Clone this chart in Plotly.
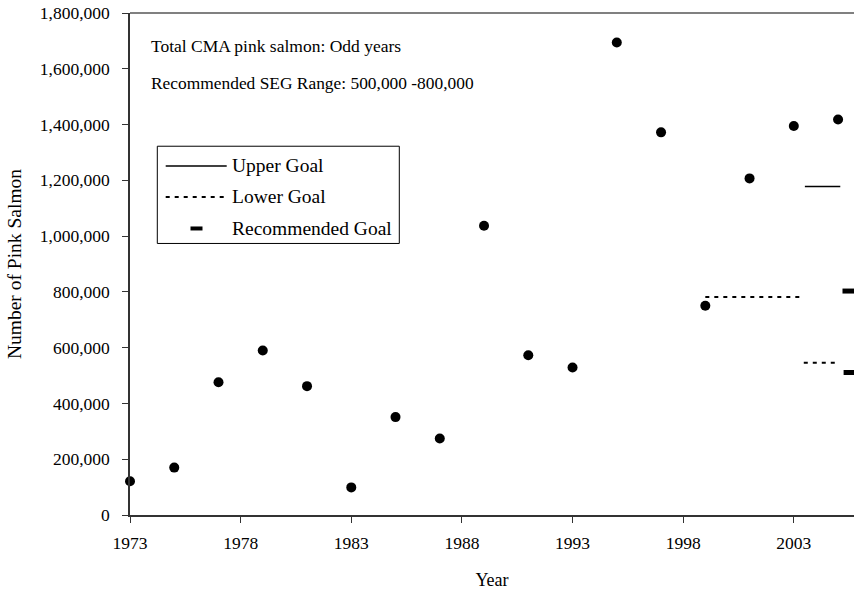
import plotly.graph_objects as go

# ---- data ----
years = [1973, 1975, 1977, 1979, 1981, 1983, 1985, 1987, 1989,
         1991, 1993, 1995, 1997, 1999, 2001, 2003, 2005]
escapement = [121000, 170000, 476000, 590000, 462000, 99000, 351000, 274000, 1037000,
              573000, 529000, 1694000, 1372000, 750000, 1207000, 1395000, 1418000]

upper_goal_x = [2003.5, 2005.1]
upper_goal_y = [1178000, 1178000]

lower_goal_a_x = [1999.0, 2003.38]
lower_goal_a_y = [782000, 782000]
lower_goal_b_x = [2003.45, 2004.9]
lower_goal_b_y = [546000, 546000]

rec_goal_hi_x = [2005.2, 2005.8]
rec_goal_hi_y = [803000, 803000]
rec_goal_lo_x = [2005.25, 2005.8]
rec_goal_lo_y = [511000, 511000]

x_ticks = [1973, 1978, 1983, 1988, 1993, 1998, 2003]
y_ticks = list(range(0, 1800001, 200000))

FONT = "Liberation Serif"

fig = go.Figure()

fig.add_trace(go.Scatter(x=years, y=escapement, mode="markers",
                         marker=dict(color="black", size=10),
                         cliponaxis=False, showlegend=False))
fig.add_trace(go.Scatter(x=upper_goal_x, y=upper_goal_y, mode="lines",
                         line=dict(color="black", width=1.5), showlegend=False))
for gx, gy in [(lower_goal_a_x, lower_goal_a_y), (lower_goal_b_x, lower_goal_b_y)]:
    fig.add_trace(go.Scatter(x=gx, y=gy, mode="lines",
                             line=dict(color="black", width=2, dash="4px,5px"),
                             showlegend=False))
for gx, gy in [(rec_goal_hi_x, rec_goal_hi_y), (rec_goal_lo_x, rec_goal_lo_y)]:
    fig.add_trace(go.Scatter(x=gx, y=gy, mode="lines",
                             line=dict(color="black", width=5),
                             cliponaxis=True, showlegend=False))

# plot-area geometry in window pixels, for the hand-drawn legend
L, R, T, B = 130, 854, 12.7, 515
def px(x):
    return (x - L) / (R - L)
def py(y):
    return (B - y) / (B - T)

shapes = [
    # grey top border
    dict(type="line", xref="paper", yref="paper", x0=0, x1=1, y0=1, y1=1,
         layer="above", line=dict(color="#808080", width=2)),
    # legend box
    dict(type="rect", xref="paper", yref="paper",
         x0=px(157.3), x1=px(399.3), y0=py(243.3), y1=py(146),
         line=dict(color="black", width=1), fillcolor="white"),
    dict(type="line", xref="paper", yref="paper", x0=px(165.7), x1=px(226.7),
         y0=py(165.7), y1=py(165.7), line=dict(color="black", width=1.5)),
    dict(type="line", xref="paper", yref="paper", x0=px(165.7), x1=px(226.7),
         y0=py(196.7), y1=py(196.7), line=dict(color="black", width=2, dash="4px,5px")),
    dict(type="line", xref="paper", yref="paper", x0=px(190.5), x1=px(202.5),
         y0=py(228.3), y1=py(228.3), line=dict(color="black", width=4)),
]

annotations = [
    dict(text="Total CMA pink salmon: Odd years", xref="paper", yref="paper",
         x=px(149), y=py(46), xanchor="left", yanchor="middle", showarrow=False,
         font=dict(family=FONT, size=17.5, color="black")),
    dict(text="Recommended SEG Range: 500,000 -800,000", xref="paper", yref="paper",
         x=px(149), y=py(83), xanchor="left", yanchor="middle", showarrow=False,
         font=dict(family=FONT, size=17.4, color="black")),
]
for label, ypix in [("Upper Goal", 165.7), ("Lower Goal", 196.7), ("Recommended Goal", 228.3)]:
    annotations.append(dict(text=label, xref="paper", yref="paper", x=px(230), y=py(ypix),
                            xanchor="left", yanchor="middle", showarrow=False,
                            font=dict(family=FONT, size=19.5, color="black")))

fig.update_layout(
    width=854, height=592,
    margin=dict(l=L, r=854 - R, t=T, b=592 - B),
    paper_bgcolor="white", plot_bgcolor="white",
    font=dict(family=FONT, size=17, color="black"),
    shapes=shapes, annotations=annotations,
    showlegend=False,
)
fig.update_xaxes(range=[1973, 2005.72], tickmode="array", tickvals=x_ticks,
                 ticktext=[str(v) for v in x_ticks],
                 showgrid=False, zeroline=False, showline=True, linecolor="#333",
                 linewidth=1.5, ticks="outside", ticklen=6, tickcolor="#333",
                 ticklabelstandoff=5,
                 tickfont=dict(family=FONT, size=17.5),
                 title=dict(text="Year", font=dict(family=FONT, size=18), standoff=22))
fig.update_yaxes(range=[0, 1800000], tickmode="array", tickvals=y_ticks,
                 ticktext=[f"{v:,}" for v in y_ticks],
                 showgrid=False, zeroline=False, showline=True, linecolor="#333",
                 linewidth=1.5, ticks="outside", ticklen=6, tickcolor="#333",
                 ticklabelstandoff=9,
                 tickfont=dict(family=FONT, size=17.5),
                 title=dict(text="Number of Pink Salmon", font=dict(family=FONT, size=19.5),
                            standoff=13))

# remove the page's default 8px body margin so the figure fills the window exactly
fig.write_html("out.html", config={"displayModeBar": False},
               post_script="document.body.style.margin='0';document.body.style.overflow='hidden';")
